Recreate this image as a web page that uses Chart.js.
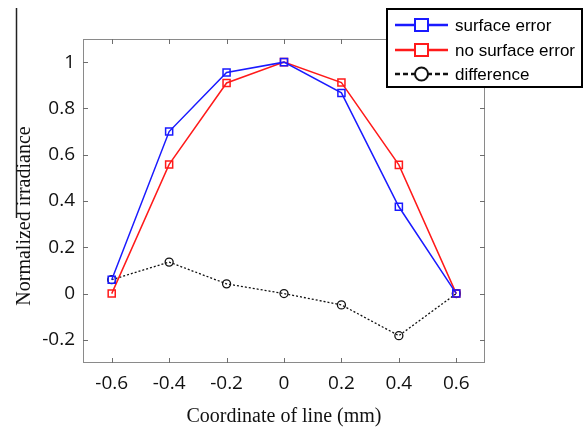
<!DOCTYPE html>
<html>
<head>
<meta charset="utf-8">
<script src="https://cdn.jsdelivr.net/npm/chart.js@4.4.1/dist/chart.umd.min.js"></script>
<style>
  body { margin: 0; background: #fff; }
  #wrap { width: 584px; height: 429px; }
</style>
</head>
<body>
<div id="wrap"><canvas id="myChart" width="584" height="429"></canvas></div>
<script>
// coordinate along the line (mm)
var coords = [-0.6, -0.4, -0.2, 0, 0.2, 0.4, 0.6];
// values
var surface_error = [0.06, 0.70, 0.955, 1.0, 0.867, 0.375, 0.0];
var no_surface_error = [0.0, 0.558, 0.91, 1.0, 0.912, 0.556, 0.0];
var difference = [0.06, 0.136, 0.042, 0.0, -0.049, -0.182, 0.0];

// tick labels
var x_ticks = [-0.6, -0.4, -0.2, 0, 0.2, 0.4, 0.6];
var y_ticks = [-0.2, 0, 0.2, 0.4, 0.6, 0.8, 1];

var labels = ["surface error", "no surface error", "difference"];

function pairs(ys) {
    var out = [];
    for (i = 0; i < coords.length; i++) {
        out.push({x: coords[i], y: ys[i]});
    }
    return out;
}

function fmt(v) {
    return (Math.round(v * 10) / 10).toString();
}

// box + inward tick marks like matlab
var frame = {
    id: "frame",
    beforeDatasetsDraw: function(chart) {
        var ctx = chart.ctx;
        var a = chart.chartArea;
        var xs = chart.scales.x;
        var ys = chart.scales.y;
        ctx.save();
        ctx.strokeStyle = "#8a8a8a";
        ctx.lineWidth = 1;
        ctx.strokeRect(a.left + 0.5, a.top + 0.5, a.right - a.left - 1, a.bottom - a.top - 1);
        ctx.strokeStyle = "#6e6e6e";
        ctx.beginPath();
        for (i = 0; i < x_ticks.length; i++) {
            var px = Math.round(xs.getPixelForValue(x_ticks[i])) + 0.5;
            ctx.moveTo(px, a.bottom); ctx.lineTo(px, a.bottom - 5);
            ctx.moveTo(px, a.top); ctx.lineTo(px, a.top + 5);
        }
        for (i = 0; i < y_ticks.length; i++) {
            var py = Math.round(ys.getPixelForValue(y_ticks[i])) + 0.5;
            ctx.moveTo(a.left, py); ctx.lineTo(a.left + 5, py);
            ctx.moveTo(a.right, py); ctx.lineTo(a.right - 5, py);
        }
        ctx.stroke();
        ctx.restore();
    },
    afterDraw: function(chart) {
        var ctx = chart.ctx;
        ctx.save();
        // stray line left of the y title in the original
        ctx.strokeStyle = "#222";
        ctx.lineWidth = 1.5;
        ctx.beginPath();
        ctx.moveTo(16.5, 8); ctx.lineTo(16.5, 218);
        ctx.stroke();

        // legend box
        var bx = 387, by = 9, bw = 195, bh = 78;
        ctx.fillStyle = "#fff";
        ctx.fillRect(bx, by, bw, bh);
        ctx.strokeStyle = "#000";
        ctx.lineWidth = 2;
        ctx.strokeRect(bx, by, bw, bh);

        var rows = [25, 50, 74];
        var dashes = [[], [], [5, 3]];
        var sets = chart.data.datasets;
        for (i = 0; i < sets.length; i++) {
            var d = sets[i];
            var y = rows[i];
            ctx.strokeStyle = d.borderColor;
            ctx.lineWidth = 2.5;
            ctx.setLineDash(dashes[i]);
            ctx.beginPath();
            ctx.moveTo(395, y); ctx.lineTo(448, y);
            ctx.stroke();
            ctx.setLineDash([]);
            ctx.fillStyle = "#fff";
            ctx.lineWidth = 2;
            ctx.beginPath();
            if (d.pointStyle == "circle") {
                ctx.arc(421.5, y, 6.5, 0, Math.PI * 2);
            } else {
                ctx.rect(415, y - 6, 13, 12);
            }
            ctx.fill();
            ctx.stroke();
            ctx.fillStyle = "#000";
            ctx.font = "17px 'Liberation Sans'";
            ctx.textBaseline = "middle";
            ctx.textAlign = "left";
            ctx.fillText(d.label, 455, y + 1);
        }
        ctx.restore();
    }
};

var chart = new Chart(document.getElementById("myChart"), {
    type: "line",
    data: {
        datasets: [{
            label: labels[0],
            data: pairs(surface_error),
            borderColor: "#1a1aff",
            borderWidth: 1.5,
            pointStyle: "rect",
            pointRadius: 5,
            pointBorderWidth: 1.5,
            pointBackgroundColor: "rgba(0,0,0,0)",
            tension: 0
        }, {
            label: labels[1],
            data: pairs(no_surface_error),
            borderColor: "#ff1a1a",
            borderWidth: 1.5,
            pointStyle: "rect",
            pointRadius: 5,
            pointBorderWidth: 1.5,
            pointBackgroundColor: "rgba(0,0,0,0)",
            tension: 0
        }, {
            label: labels[2],
            data: pairs(difference),
            borderColor: "#111",
            borderWidth: 1.3,
            borderDash: [2, 2],
            pointStyle: "circle",
            pointRadius: 4,
            pointBorderWidth: 1.3,
            pointBackgroundColor: "rgba(0,0,0,0)",
            tension: 0
        }]
    },
    options: {
        responsive: false,
        animation: false,
        layout: {
            padding: {top: 39, right: 99, left: 0, bottom: 0}
        },
        plugins: {
            legend: {display: false},
            tooltip: {enabled: false}
        },
        scales: {
            x: {
                type: "linear",
                min: -0.7,
                max: 0.7,
                afterBuildTicks: function(s) {
                    s.ticks = x_ticks.map(function(v) { return {value: v}; });
                },
                afterFit: function(s) { s.height = 66; },
                grid: {display: false, drawTicks: false},
                border: {display: false},
                ticks: {
                    color: "#111",
                    padding: 9,
                    maxRotation: 0,
                    font: {family: "'Open Sans'", size: 19},
                    callback: function(v) { return fmt(v); }
                },
                title: {
                    display: true,
                    text: "Coordinate of line (mm)",
                    color: "#111",
                    font: {family: "'Liberation Serif'", size: 20},
                    padding: {top: 0, bottom: 0}
                }
            },
            y: {
                min: -0.3,
                max: 1.1,
                afterBuildTicks: function(s) {
                    s.ticks = y_ticks.map(function(v) { return {value: v}; });
                },
                afterFit: function(s) { s.width = 83; },
                grid: {display: false, drawTicks: false},
                border: {display: false},
                ticks: {
                    color: "#111",
                    padding: 8,
                    font: {family: "'Open Sans'", size: 19},
                    callback: function(v) { return fmt(v); }
                },
                title: {
                    display: true,
                    text: "Normalized irradiance\u00a0\u00a0\u00a0\u00a0\u00a0\u00a0",
                    color: "#111",
                    font: {family: "'Liberation Serif'", size: 20},
                    padding: {top: 13, bottom: 0}
                }
            }
        }
    },
    plugins: [frame]
});
</script>
</body>
</html>
